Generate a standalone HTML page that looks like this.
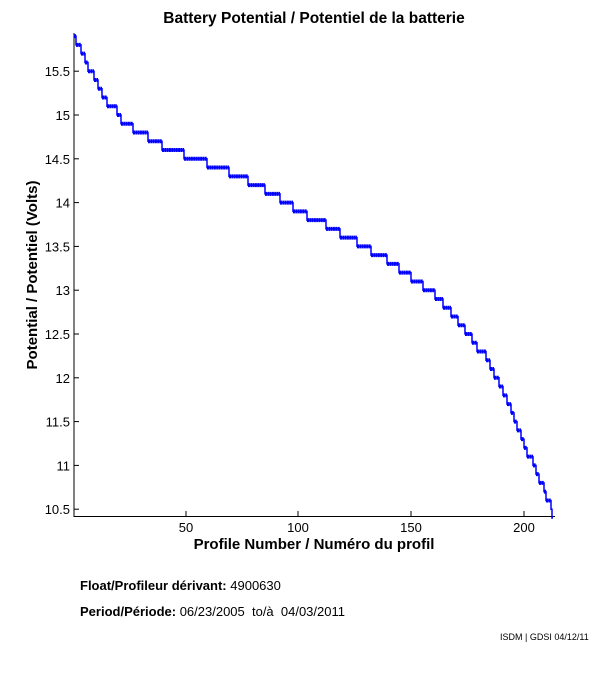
<!DOCTYPE html>
<html><head><meta charset="utf-8"><style>
body{margin:0;background:#fff;width:611px;height:675px;overflow:hidden;font-family:"Liberation Sans",sans-serif}
</style></head><body>
<svg id="s" width="611" height="675" xmlns="http://www.w3.org/2000/svg" font-family="Liberation Sans, sans-serif">
<text x="314" y="23" font-size="15.5" font-weight="bold" text-anchor="middle">Battery Potential / Potentiel de la batterie</text>
<text transform="translate(37,275) rotate(-90)" font-size="15" font-weight="bold" text-anchor="middle">Potential / Potentiel (Volts)</text>
<text x="314" y="549" font-size="15" font-weight="bold" text-anchor="middle">Profile Number / Numéro du profil</text>
<g font-size="13" text-anchor="end" id="yt"></g>
<g font-size="13" text-anchor="middle">
<text x="186" y="532">50</text><text x="298" y="532">100</text><text x="411" y="532">150</text><text x="524" y="532">200</text>
</g>
<line x1="74" y1="33" x2="74" y2="517" stroke="#000"/>
<line x1="74" y1="516.5" x2="555" y2="516.5" stroke="#000"/>
<g stroke="#000"><line x1="186" y1="516" x2="186" y2="511"/><line x1="298" y1="516" x2="298" y2="511"/><line x1="411" y1="516" x2="411" y2="511"/><line x1="524" y1="516" x2="524" y2="511"/></g>
<g id="plot"></g>
<text x="80" y="590" font-size="13"><tspan font-weight="bold">Float/Profileur dérivant:</tspan> 4900630</text>
<text x="80" y="616" font-size="13" xml:space="preserve" style="white-space:pre"><tspan font-weight="bold">Period/Période:</tspan> 06/23/2005  to/à  04/03/2011</text>
<text x="500" y="640" font-size="9">ISDM | GDSI 04/12/11</text>
</svg>
<script>
function Y(v){return 115+(15-v)*87.6;}
var yt=document.getElementById('yt'),h='';
for(var v=10.5;v<=15.51;v+=0.5){var y=Y(v);h+='<text x="70" y="'+(y+5)+'">'+(Math.round(v*10)/10)+'</text><line x1="74" x2="79" y1="'+y+'" y2="'+y+'" stroke="#000"/>';}
yt.innerHTML=h;
var st=[74,76,81,85,88,94,98,102,107,117,121,133,148,162,184,207,229,248,265,280,293,307,326,340,357,371,387,399,411,423,435,443,451,458,465,472,477,486,490,494,499,503,507,511,514,517,521,524,527,533,536,539,544,546,551,552,553];
var d='',hz='';
for(var i=0;i<st.length-1;i++){var v=15.9-i*0.1,y=Y(v);d+=(i?'L':'M')+st[i]+' '+y+' L'+st[i+1]+' '+y+' ';if(st[i+1]-st[i]>1)hz+='M'+st[i]+' '+y+' L'+st[i+1]+' '+y+' ';}
document.getElementById('plot').innerHTML='<path d="'+d+'" fill="none" stroke="#00f" stroke-width="1.5"/><path d="'+hz+'" fill="none" stroke="#00f" stroke-width="4" stroke-dasharray="2 0.3"/>';
</script>
</body></html>
